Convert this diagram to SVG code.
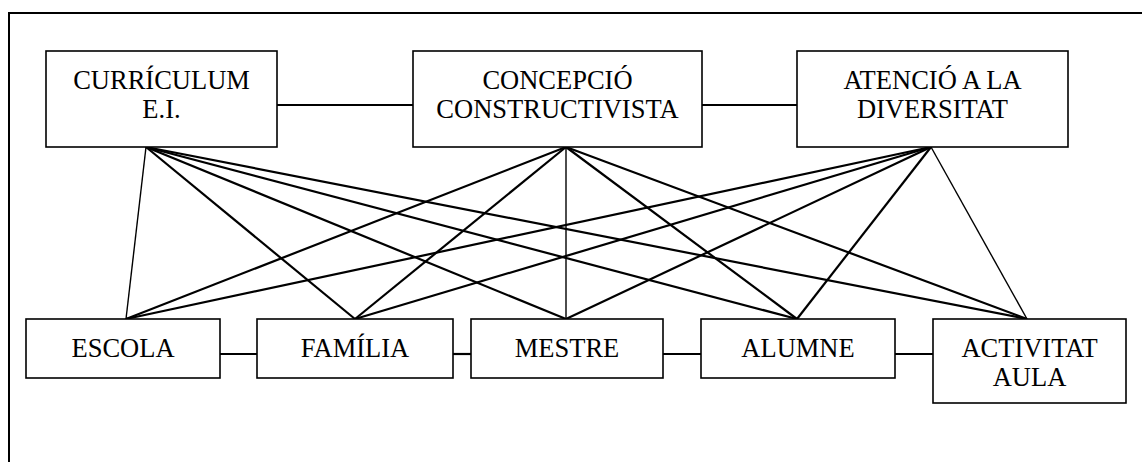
<svg xmlns="http://www.w3.org/2000/svg" width="1142" height="462" viewBox="0 0 1142 462">
<style>
.box{fill:#fff;stroke:#000;stroke-width:1.6}
.t{font-family:"Liberation Serif","Times New Roman",serif;font-size:26.5px;fill:#000;text-anchor:middle}
.e{stroke:#000;stroke-width:2.2;fill:none}
.thin{stroke-width:1.4}
</style>
<rect width="1142" height="462" fill="#fff"/>
<path d="M9,470 V13 H1150" fill="none" stroke="#000" stroke-width="2"/>
<g id="connectors">
<line class="e" x1="277" y1="105" x2="413" y2="105"/>
<line class="e" x1="702" y1="105" x2="797" y2="105"/>
<line class="e" x1="220" y1="354" x2="257" y2="354"/>
<line class="e" x1="453" y1="354" x2="471" y2="354"/>
<line class="e" x1="663" y1="354" x2="701" y2="354"/>
<line class="e" x1="895" y1="354" x2="933" y2="354"/>
<line class="e thin" x1="146" y1="147" x2="126" y2="319"/>
<line class="e" x1="146" y1="147" x2="355" y2="319"/>
<line class="e" x1="146" y1="147" x2="566" y2="319"/>
<line class="e" x1="146" y1="147" x2="797" y2="319"/>
<line class="e" x1="146" y1="147" x2="1027" y2="319"/>
<line class="e" x1="566" y1="147" x2="126" y2="319"/>
<line class="e" x1="566" y1="147" x2="355" y2="319"/>
<line class="e thin" x1="566" y1="147" x2="566" y2="319"/>
<line class="e" x1="566" y1="147" x2="797" y2="319"/>
<line class="e" x1="566" y1="147" x2="1027" y2="319"/>
<line class="e" x1="931" y1="147" x2="126" y2="319"/>
<line class="e" x1="931" y1="147" x2="355" y2="319"/>
<line class="e" x1="931" y1="147" x2="566" y2="319"/>
<line class="e" x1="931" y1="147" x2="797" y2="319"/>
<line class="e thin" x1="931" y1="147" x2="1027" y2="319"/>
</g>
<g id="curriculum">
<rect class="box" x="46" y="51" width="231" height="96"/>
<text class="t" x="161.5" y="89">CURRÍCULUM</text>
<text class="t" x="161.5" y="118">E.I.</text>
</g>
<g id="concepcio">
<rect class="box" x="413" y="51" width="289" height="96"/>
<text class="t" x="557.5" y="89">CONCEPCIÓ</text>
<text class="t" x="557.5" y="118">CONSTRUCTIVISTA</text>
</g>
<g id="atencio">
<rect class="box" x="797" y="51" width="271" height="96"/>
<text class="t" x="932.5" y="89">ATENCIÓ A LA</text>
<text class="t" x="932.5" y="118">DIVERSITAT</text>
</g>
<g id="escola">
<rect class="box" x="26" y="319" width="194" height="59"/>
<text class="t" x="123" y="357">ESCOLA</text>
</g>
<g id="familia">
<rect class="box" x="257" y="319" width="196" height="59"/>
<text class="t" x="355" y="357">FAMÍLIA</text>
</g>
<g id="mestre">
<rect class="box" x="471" y="319" width="192" height="59"/>
<text class="t" x="567" y="357">MESTRE</text>
</g>
<g id="alumne">
<rect class="box" x="701" y="319" width="194" height="59"/>
<text class="t" x="798" y="357">ALUMNE</text>
</g>
<g id="activitat">
<rect class="box" x="933" y="319" width="193" height="84"/>
<text class="t" x="1029.5" y="357">ACTIVITAT</text>
<text class="t" x="1029.5" y="386">AULA</text>
</g>
</svg>
